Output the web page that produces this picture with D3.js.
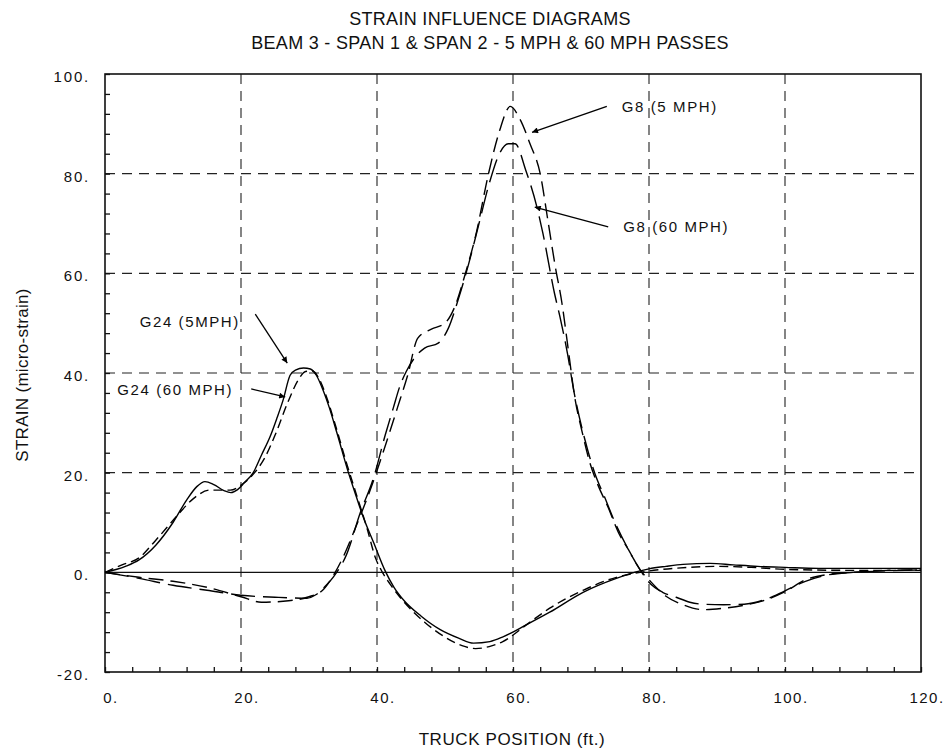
<!DOCTYPE html>
<html>
<head>
<meta charset="utf-8">
<script src="https://cdn.jsdelivr.net/npm/d3@7/dist/d3.min.js"></script>
<style>
  html, body { margin: 0; padding: 0; background: #fff; }
  svg { display: block; font-family: "Liberation Sans", Arial, sans-serif; }
</style>
</head>
<body>
<svg id="chart" width="951" height="752"></svg>
<script>
// Truck position (ft.) and strain (micro-strain) for each gauge / pass
const g24Slow = {
  x: [0,3,5,7.5,10,12,13.5,14.7,16,17.5,18.5,19.5,20.5,21.8,23,24.3,25.3,26.2,27.2,28,29.2,30.2,31.1,32,33,34.1,35.8,37,38,39.5,41.2,42.5,44,46.5,49.3,52,54.2,56.6,58.6,62,65.4,70.3,75.2,78.7,80,82.5,85,89,92.4,96,100,105,110,115,120],
  y: [0,1.2,2.5,5.5,10,14.5,17.2,18.2,17.6,16.4,16.0,16.6,18.0,20,23.5,27.3,31,34.6,39.5,40.6,41,40.8,39.5,36.8,33,28,20,15,11,6,0.3,-3,-5.7,-8.8,-11.5,-13.2,-14.2,-13.9,-12.9,-10.5,-8,-4,-1.2,0.3,0.7,1.2,1.6,1.8,1.5,1.2,1.0,0.8,0.8,0.8,0.8]
};
const g24Fast = {
  x: [0,2.5,5,7.5,10.5,13,15.4,18.4,20.4,22,23.5,25,27,28.5,29.5,30.5,31.5,32.5,34,35.5,37,38.5,39.8,40.8,42,44,47,50,52.5,54.5,56.5,58.5,62,65.4,70.3,75.2,78.7,82,86,90,95,100,110,120],
  y: [0,1.5,2.9,6.5,11.2,14.8,16.5,16.5,17.9,20,23,27.5,34.5,38.8,40.3,40.4,38.8,35.5,29,22,15.5,9,2.8,0,-2.5,-6,-10,-13,-14.7,-15.3,-14.9,-13.9,-10.5,-7.2,-3.6,-1.0,0,0.6,1.0,1.2,1.0,0.6,0.4,0.4]
};
const g8Slow = {
  x: [0,5,10,15,20,23,27,30,32,33.5,35,37,39,41,43,44.5,46,48,50,51.5,53,54.5,56.4,58,59.6,61,62.5,64,65.2,66.2,67.2,68.1,69.1,70.2,71.3,72.5,74,75.5,77,78.8,80,82.5,85,88,91,94,97,100,103,106,110,115,120],
  y: [0,-1.0,-1.8,-3.0,-4.9,-6.0,-5.7,-4.9,-3.6,-0.8,3,9.5,16.5,24.5,33,39.5,47,48.8,50,53.5,60,67.5,80,88.5,93.5,91,86,80,70,61.5,54,45,35,28,22,17.5,13,8,4.5,0.3,-1.5,-4.8,-6.5,-7.5,-7.2,-6.6,-5.6,-3.9,-1.5,-0.5,0,0.4,0.5]
};
const g8Fast = {
  x: [0,5,10,15,20,25,29.7,31,32.6,33.6,35.5,37.5,39.5,41.2,42.4,43.4,44.3,45.5,47,49,50.5,52,53.5,55,56.5,58,59.3,60.3,61.9,63.5,64.4,66.1,66.9,68,69,70.5,72,73.5,75,77,78.8,80,82,84,86,88,91,94,97,100,103,106,110,115,120],
  y: [0,-1.2,-2.6,-3.6,-4.6,-5.0,-5.2,-4.5,-2.5,-0.9,3.5,11.8,19,27.5,33,37.5,40.3,43,45,46,49,55,62,70,78,84,86,86,80.6,73.4,68,56,51.3,44,36,27,20,15,10,4.5,0.3,-2,-4,-5,-6,-6.4,-6.5,-6.4,-5.5,-3.7,-1.8,-0.6,0,0.3,0.5]
};

const xTickValues = [0,20,40,60,80,100,120];
const yTickValues = [-20,0,20,40,60,80,100];
const xGridValues = [20,40,60,80,100];
const yGridValues = [20,40,60,80];

const titleLines = ["STRAIN INFLUENCE DIAGRAMS", "BEAM 3 - SPAN 1 & SPAN 2 - 5 MPH & 60 MPH PASSES"];
const xTitle = "TRUCK POSITION (ft.)";
const yTitle = "STRAIN (micro-strain)";

// Callout labels: text, label anchor (data units), arrow start and tip (data units)
const callouts = [
  { text: "G8 (5 MPH)",   tx: 76.0, ty: 93.4, ax0: 73.8, ay0: 93.5, ax1: 62.8, ay1: 88.3 },
  { text: "G8 (60 MPH)",  tx: 76.2, ty: 69.3, ax0: 74.0, ay0: 69.3, ax1: 63.2, ay1: 73.3 },
  { text: "G24 (5MPH)",   tx: 5.1,  ty: 50.2, ax0: 22.1, ay0: 51.8, ax1: 26.8, ay1: 42.0 },
  { text: "G24 (60 MPH)", tx: 1.8,  ty: 36.6, ax0: 21.5, ay0: 36.8, ax1: 26.5, ay1: 35.2 }
];

const svg = d3.select("#chart");
const plotLeft = 105, plotRight = 921, plotTop = 74, plotBottom = 672;

const x = d3.scaleLinear().domain([0, 120]).range([plotLeft, plotRight]);
const y = d3.scaleLinear().domain([-20, 100]).range([plotBottom, plotTop]);

// arrowhead marker
svg.append("defs").append("marker")
  .attr("id", "arrow")
  .attr("viewBox", "0 0 10 10")
  .attr("refX", 10).attr("refY", 5)
  .attr("markerWidth", 12).attr("markerHeight", 6)
  .attr("markerUnits", "userSpaceOnUse")
  .attr("orient", "auto")
  .append("path").attr("d", "M0,0 L10,5 L0,10 Z").attr("fill", "#000");

// titles
svg.selectAll("text.title").data(titleLines).enter().append("text")
  .attr("class", "title")
  .attr("x", 490)
  .attr("y", (d, i) => i === 0 ? 25 : 49)
  .attr("text-anchor", "middle")
  .attr("font-size", 18)
  .attr("letter-spacing", 0.3)
  .attr("fill", "#111")
  .text(d => d);

// dashed grid
const grid = svg.append("g").attr("stroke", "#222").attr("stroke-width", 1.1)
  .attr("stroke-dasharray", "10,7").attr("fill", "none");
grid.selectAll("line.v").data(xGridValues).enter().append("line")
  .attr("class", "v")
  .attr("x1", d => x(d)).attr("x2", d => x(d))
  .attr("y1", y(100)).attr("y2", y(-20));
grid.selectAll("line.h").data(yGridValues).enter().append("line")
  .attr("class", "h")
  .attr("x1", x(0)).attr("x2", x(120))
  .attr("y1", d => y(d)).attr("y2", d => y(d));

// zero line
svg.append("line")
  .attr("x1", x(0)).attr("x2", x(120))
  .attr("y1", y(0)).attr("y2", y(0))
  .attr("stroke", "#111").attr("stroke-width", 1.3);

// inward minor ticks on left and bottom axes
const bottomAxis = svg.append("g")
  .attr("transform", `translate(0,${plotBottom})`)
  .call(d3.axisBottom(x).tickValues(d3.range(0, 121, 4)).tickSize(-5).tickFormat(""));
const leftAxis = svg.append("g")
  .attr("transform", `translate(${plotLeft},0)`)
  .call(d3.axisLeft(y).tickValues(d3.range(-20, 101, 4)).tickSize(-5).tickFormat(""));
[bottomAxis, leftAxis].forEach(g => {
  g.select(".domain").remove();
  g.selectAll(".tick line").attr("stroke", "#111").attr("stroke-width", 1.3);
});

// frame
svg.append("rect")
  .attr("x", plotLeft).attr("y", plotTop)
  .attr("width", plotRight - plotLeft).attr("height", plotBottom - plotTop)
  .attr("fill", "none").attr("stroke", "#111").attr("stroke-width", 1.6);

// tick labels
svg.selectAll("text.xl").data(xTickValues).enter().append("text")
  .attr("class", "xl")
  .attr("x", d => x(d) + 6).attr("y", 703)
  .attr("text-anchor", "middle")
  .attr("font-size", 15).attr("letter-spacing", 1.5).attr("fill", "#111")
  .text(d => d + ".");
svg.selectAll("text.yl").data(yTickValues).enter().append("text")
  .attr("class", "yl")
  .attr("x", 90).attr("y", d => y(d) + 8)
  .attr("text-anchor", "end")
  .attr("font-size", 15).attr("letter-spacing", 1.8).attr("fill", "#111")
  .text(d => d + ".");

// axis titles
svg.append("text")
  .attr("x", 512).attr("y", 745)
  .attr("text-anchor", "middle")
  .attr("font-size", 17).attr("letter-spacing", 0.6).attr("fill", "#111")
  .text(xTitle);
svg.append("text")
  .attr("transform", "translate(28,375) rotate(-90)")
  .attr("text-anchor", "middle")
  .attr("font-size", 17).attr("letter-spacing", 0.3).attr("fill", "#111")
  .text(yTitle);

// strain curves
const line = d3.line().x(d => x(d[0])).y(d => y(d[1])).curve(d3.curveMonotoneX);
const series = [
  { s: g24Slow, dash: null },
  { s: g24Fast, dash: "9,5" },
  { s: g8Slow,  dash: "15,7" },
  { s: g8Fast,  dash: "24,8" }
];
svg.append("g").selectAll("path").data(series).enter().append("path")
  .attr("d", d => line(d3.zip(d.s.x, d.s.y)))
  .attr("fill", "none")
  .attr("stroke", "#000")
  .attr("stroke-width", 1.4)
  .attr("stroke-dasharray", d => d.dash);

// callouts
const cg = svg.append("g");
cg.selectAll("line").data(callouts).enter().append("line")
  .attr("x1", d => x(d.ax0)).attr("y1", d => y(d.ay0))
  .attr("x2", d => x(d.ax1)).attr("y2", d => y(d.ay1))
  .attr("stroke", "#000").attr("stroke-width", 1.3)
  .attr("marker-end", "url(#arrow)");
cg.selectAll("text").data(callouts).enter().append("text")
  .attr("x", d => x(d.tx)).attr("y", d => y(d.ty))
  .attr("dy", "0.35em")
  .attr("font-size", 15).attr("letter-spacing", 1.6).attr("fill", "#111")
  .text(d => d.text);
</script>
</body>
</html>
